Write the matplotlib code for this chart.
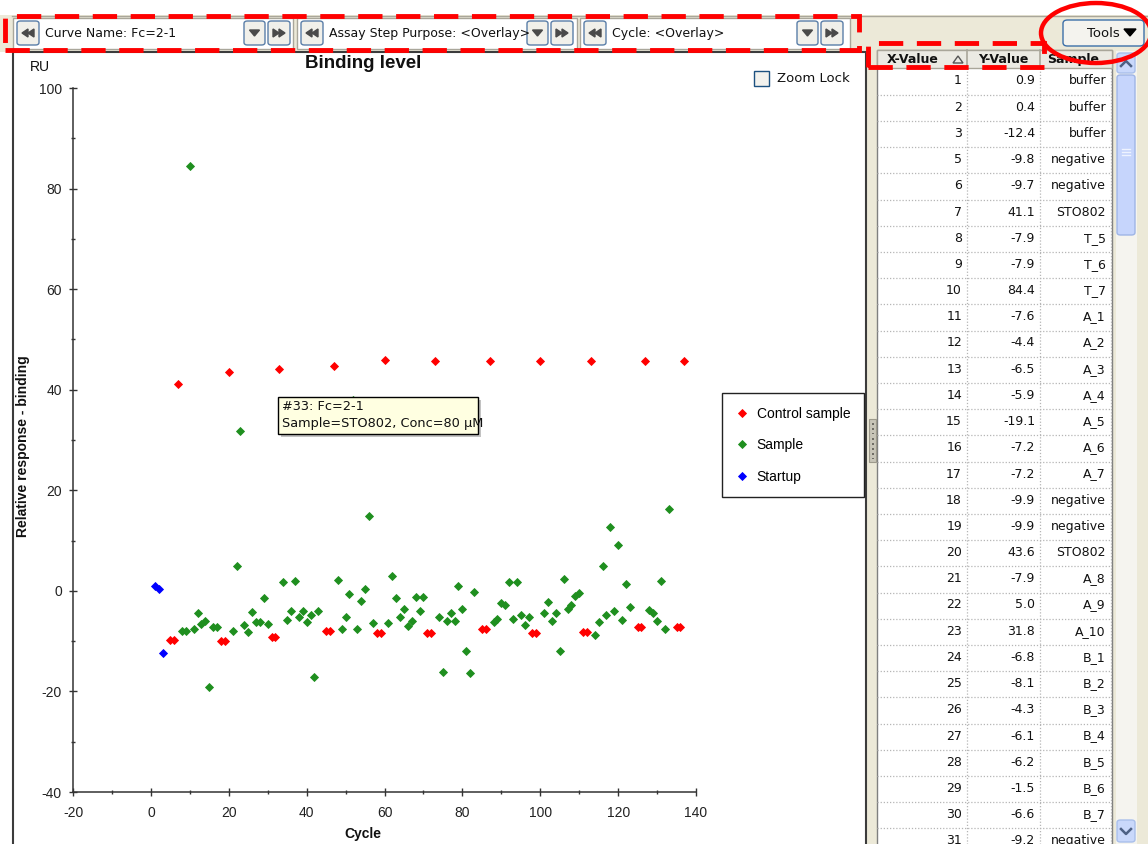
import numpy as np
import matplotlib.pyplot as plt
from matplotlib.patches import Rectangle, Ellipse, FancyBboxPatch, Polygon
from matplotlib.lines import Line2D

plt.rcParams["axes.unicode_minus"] = False

W, H = 1148, 844

# data (cycle -> binding level, RU)
startup_cycle = [1, 2, 3]
startup_resp = [0.9, 0.4, -12.4]

control_cycle = [5, 6, 7, 18, 19, 20, 31, 32, 33, 45, 46, 47, 58, 59, 60, 71, 72, 73,
                 85, 86, 87, 98, 99, 100, 111, 112, 113, 125, 126, 127, 135, 136, 137]
control_resp = [-9.8, -9.7, 41.1, -9.9, -9.9, 43.6, -9.2, -9.1, 44.1, -8.0, -8.0, 44.7,
                -8.3, -8.3, 45.9, -8.3, -8.3, 45.7, -7.5, -7.5, 45.7, -8.3, -8.3, 45.7,
                -8.1, -8.1, 45.7, -7.2, -7.2, 45.7, -7.1, -7.1, 45.7]

sample_cycle = [8, 9, 10, 11, 12, 13, 14, 15, 16, 17, 21, 22, 23, 24, 25, 26, 27, 28, 29, 30,
                34, 35, 36, 37, 38, 39, 40, 41, 42, 43, 48, 49, 50, 51, 52, 53, 54, 55, 56, 57,
                61, 62, 63, 64, 65, 66, 67, 68, 69, 70, 74, 75, 76, 77, 78, 79, 80, 81, 82, 83,
                88, 89, 90, 91, 92, 93, 94, 95, 96, 97, 101, 102, 103, 104, 105, 106, 107, 108,
                109, 110, 114, 115, 116, 117, 118, 119, 120, 121, 122, 123, 128, 129, 130, 131,
                132, 133]
sample_resp = [-7.9, -7.9, 84.4, -7.6, -4.4, -6.5, -5.9, -19.1, -7.2, -7.2, -7.9, 5.0, 31.8,
               -6.8, -8.1, -4.3, -6.1, -6.2, -1.5, -6.6,
               1.7, -5.7, -4.1, 1.9, -5.2, -4.1, -6.2, -4.8, -17.2, -4.1,
               2.1, -7.5, -5.2, -0.7, 37.9, -7.5, -2.1, 0.3, 14.9, -6.4,
               -6.4, 2.9, -1.5, -5.2, -3.6, -7.0, -5.9, -1.3, -4.1, -1.3,
               -5.2, -16.1, -5.9, -4.4, -5.9, 0.9, -3.6, -11.9, -16.4, -0.2,
               -6.2, -5.6, -2.5, -2.8, 1.7, -5.6, 1.7, -4.8, -6.7, -5.2,
               -4.4, -2.3, -5.9, -4.4, -11.9, 2.4, -3.6, -2.8, -1.0, -0.5,
               -8.8, -6.2, 5.0, -4.9, 12.6, -4.1, 9.1, -5.7, 1.3, -3.3,
               -3.8, -4.4, -6.0, 1.9, -7.5, 16.2]

# sample names of the rows visible in the table
table_sample = ["buffer", "buffer", "buffer", "negative", "negative", "STO802", "T_5", "T_6",
                "T_7", "A_1", "A_2", "A_3", "A_4", "A_5", "A_6", "A_7", "negative", "negative",
                "STO802", "A_8", "A_9", "A_10", "B_1", "B_2", "B_3", "B_4", "B_5", "B_6", "B_7",
                "negative"]

series_names = ["Control sample", "Sample", "Startup"]
series_colors = ["#ff0000", "#1f8f1f", "#0000ff"]

BEIGE = "#ece9d8"

fig = plt.figure(figsize=(W / 100, H / 100), dpi=100)
fig.patch.set_facecolor("white")


def fx(x):
    return x / W


def fy(y):
    return 1 - y / H


def rect(x0, y0, x1, y1, **kw):
    p = Rectangle((fx(x0), fy(y1)), (x1 - x0) / W, (y1 - y0) / H,
                  transform=fig.transFigure, **kw)
    fig.add_artist(p)
    return p


def line(xs, ys, **kw):
    fig.add_artist(Line2D([fx(v) for v in xs], [fy(v) for v in ys],
                          transform=fig.transFigure, **kw))


def poly(pts, **kw):
    fig.add_artist(Polygon([(fx(a), fy(b)) for a, b in pts], closed=True,
                           transform=fig.transFigure, **kw))


def text(x, y, s, **kw):
    fig.text(fx(x), fy(y), s, **kw)


def button(x0, y0, x1, y1, glyph):
    fig.add_artist(FancyBboxPatch((fx(x0), fy(y1)), (x1 - x0) / W, (y1 - y0) / H,
                                  boxstyle="round,pad=0,rounding_size=0.003",
                                  transform=fig.transFigure, facecolor="#f1f0ea",
                                  edgecolor="#5a7ea8", linewidth=1.0, zorder=2))
    cx, cy = (x0 + x1) / 2, (y0 + y1) / 2
    c = "#4a4a4a"
    if glyph == "down":
        poly([(cx - 5, cy - 3), (cx + 5, cy - 3), (cx, cy + 3)], color=c, zorder=3)
    elif glyph == "rew":
        for d in (-3, 3):
            poly([(cx + d + 3, cy - 4), (cx + d + 3, cy + 4), (cx + d - 3, cy)], color=c, zorder=3)
    else:
        for d in (-3, 3):
            poly([(cx + d - 3, cy - 4), (cx + d - 3, cy + 4), (cx + d + 3, cy)], color=c, zorder=3)


ui = dict(family=["DejaVu Sans"], color="#111111")

# background panels
rect(0, 15, W, 52, facecolor=BEIGE, edgecolor="none", zorder=-3)
rect(866, 15, W, H, facecolor=BEIGE, edgecolor="none", zorder=-3)
line([12, W], [16, 16], color="#a9a69a", linewidth=1, zorder=-2)
rect(13, 52, 866, H + 5, facecolor="white", edgecolor="#3c3c3c", linewidth=1.5, zorder=-2)

# toolbar
segs = [(13, 293, "Curve Name: Fc=2-1", 244), (297, 577, "Assay Step Purpose: <Overlay>", 527),
        (580, 850, "Cycle: <Overlay>", 797)]
for s0, s1, label, bx in segs:
    rect(s0, 18, s1, 49, facecolor="white", edgecolor="#a9a69a", linewidth=1, zorder=1)
    button(s0 + 4, 21, s0 + 26, 45, "rew")
    text(s0 + 32, 33.5, label, fontsize=9, va="center", ha="left", zorder=3, **ui)
    button(bx, 21, bx + 21, 45, "down")
    button(bx + 24, 21, bx + 46, 45, "ff")

# tools button
fig.add_artist(FancyBboxPatch((fx(1063), fy(46)), 81 / W, 26 / H,
                              boxstyle="round,pad=0,rounding_size=0.004",
                              transform=fig.transFigure, facecolor="#f4f3ee",
                              edgecolor="#3c6fa8", linewidth=1.0, zorder=2))
text(1087, 33.5, "Tools", fontsize=9.5, va="center", ha="left", zorder=3, **ui)
poly([(1124, 29), (1136, 29), (1130, 36)], color="black", zorder=3)

# red highlight annotations
red_kw = dict(facecolor="none", edgecolor="#ff0000", linewidth=3.5,
              linestyle=(0, (5, 2.8)), zorder=6)
rect(5, 16, 859, 50, **red_kw)
rect(868, 43, 1044, 67, **red_kw)
fig.add_artist(Ellipse((fx(1096), fy(33)), 110 / W, 60 / H, transform=fig.transFigure,
                       facecolor="none", edgecolor="#ff0000", linewidth=3.2, zorder=6))

# chart
ax = fig.add_axes([fx(73), fy(792), (696 - 73) / W, (792 - 88) / H])
for cyc, resp, name, col in zip([control_cycle, sample_cycle, startup_cycle],
                                [control_resp, sample_resp, startup_resp],
                                series_names, series_colors):
    ax.plot(cyc, resp, linestyle="none", marker="D", markersize=3.6, color=col,
            markeredgewidth=0.6, label=name, zorder=3)

ax.set_xlim(-20, 140)
ax.set_ylim(-40, 100)
ax.set_xticks(np.arange(-20, 141, 20))
ax.set_yticks(np.arange(-40, 101, 20))
ax.set_xticks(np.arange(-10, 140, 20), minor=True)
ax.set_yticks(np.arange(-30, 100, 20), minor=True)
for side in ["top", "right"]:
    ax.spines[side].set_visible(False)
for side in ["left", "bottom"]:
    ax.spines[side].set_color("#333333")
    ax.spines[side].set_linewidth(1.1)
ax.tick_params(which="major", direction="inout", length=6, width=1, color="#333333",
               labelsize=10, labelcolor="#222222")
ax.tick_params(axis="y", which="major", pad=5)
ax.tick_params(axis="x", which="major", pad=7)
ax.tick_params(which="minor", direction="inout", length=3.5, width=1, color="#333333")
for lab in ax.get_xticklabels() + ax.get_yticklabels():
    lab.set_family(["Liberation Sans", "DejaVu Sans"])

chart = dict(family=["Liberation Sans", "DejaVu Sans"], color="#111111")
text(363, 63, "Binding level", fontsize=13.5, fontweight="bold", ha="center", va="center", **chart)
text(40, 67, "RU", fontsize=10, ha="center", va="center", **chart)
text(363, 834, "Cycle", fontsize=10, fontweight="bold", ha="center", va="center", **chart)
text(23, 446, "Relative response - binding", fontsize=10, fontweight="bold", rotation=90,
     ha="center", va="center", **chart)

leg = ax.legend(loc="upper left", bbox_to_anchor=(fx(722), fy(393)), bbox_transform=fig.transFigure,
                frameon=True, fancybox=False, framealpha=1, edgecolor="#222222", numpoints=1,
                borderpad=1.0, borderaxespad=0, handlelength=0.9, handletextpad=0.6,
                labelspacing=1.25, prop={"family": ["Liberation Sans", "DejaVu Sans"], "size": 10})
leg.get_frame().set_linewidth(1.0)

# zoom lock checkbox
rect(754, 71, 769, 86, facecolor="#f2f2ee", edgecolor="#1c5180", linewidth=1, zorder=2)
text(777, 78.5, "Zoom Lock", fontsize=9.5, ha="left", va="center", zorder=3, **ui)

# tooltip
rect(281, 400, 481, 437, facecolor="#9a9a9a", edgecolor="none", alpha=0.6, zorder=4)
rect(278, 397, 478, 434, facecolor="#ffffe1", edgecolor="black", linewidth=1, zorder=5)
text(282, 406.5, "#33: Fc=2-1", fontsize=9.3, ha="left", va="center", zorder=6, **ui)
text(282, 424, "Sample=STO802, Conc=80 µM", fontsize=9.3, ha="left", va="center", zorder=6, **ui)

# splitter grip
rect(869, 419, 876, 462, facecolor="#c8c5b8", edgecolor="#9d9a8c", linewidth=0.8, zorder=2)
for gy in range(423, 460, 5):
    rect(871.5, gy, 873.5, gy + 1.5, facecolor="#6f6d66", edgecolor="none", zorder=3)

# table (rows sorted by cycle)
all_cycle = startup_cycle + control_cycle + sample_cycle
all_resp = startup_resp + control_resp + sample_resp
order = np.argsort(all_cycle)
tab_x = [all_cycle[i] for i in order][:len(table_sample)]
tab_y = [all_resp[i] for i in order][:len(table_sample)]

rect(877, 50, 1112, H + 5, facecolor="white", edgecolor="#7f7f7f", linewidth=1, zorder=-1)
rect(877, 50, 1112, 68, facecolor="#ebeae3", edgecolor="#a9a69a", linewidth=1, zorder=1)
for cx in [967, 1040]:
    line([cx, cx], [50, 68], color="#a9a69a", linewidth=1.2, zorder=2)
text(887, 59.5, "X-Value", fontsize=9, fontweight="bold", ha="left", va="center", zorder=3, **ui)
poly([(953, 63), (963, 63), (958, 56)], facecolor="none", edgecolor="#555555", linewidth=1, zorder=3)
text(1003, 59.5, "Y-Value", fontsize=9, fontweight="bold", ha="center", va="center", zorder=3, **ui)
text(1047, 59.5, "Sample", fontsize=9, fontweight="bold", ha="left", va="center", zorder=3, **ui)

row_h = 26.2
grid_kw = dict(color="#b5b5b5", linewidth=0.9, linestyle=(0, (1, 1.5)), zorder=1)
for cx in [967, 1040, 1111]:
    line([cx, cx], [68, H], **grid_kw)
for i, (xv, yv, sv) in enumerate(zip(tab_x, tab_y, table_sample)):
    yc = 81 + i * row_h
    line([877, 1111], [yc + 13.8, yc + 13.8], **grid_kw)
    text(962, yc, str(xv), fontsize=9, ha="right", va="center", zorder=3, **ui)
    text(1035, yc, f"{yv:.1f}", fontsize=9, ha="right", va="center", zorder=3, **ui)
    text(1106, yc, sv, fontsize=9, ha="right", va="center", zorder=3, **ui)

# scrollbar
rect(1116, 51, 1137, H, facecolor="#f5f4ef", edgecolor="none", zorder=1)
for y0, y1 in [(53, 73), (820, 842)]:
    fig.add_artist(FancyBboxPatch((fx(1117), fy(y1)), 18 / W, (y1 - y0) / H,
                                  boxstyle="round,pad=0,rounding_size=0.003",
                                  transform=fig.transFigure, facecolor="#c9d8fb",
                                  edgecolor="#a9bfeb", linewidth=1, zorder=2))
line([1121, 1126, 1131], [66, 61, 66], color="#4d6185", linewidth=1.8, zorder=3)
line([1121, 1126, 1131], [829, 834, 829], color="#4d6185", linewidth=1.8, zorder=3)
fig.add_artist(FancyBboxPatch((fx(1117), fy(235)), 18 / W, 160 / H,
                              boxstyle="round,pad=0,rounding_size=0.003",
                              transform=fig.transFigure, facecolor="#c6d5fc",
                              edgecolor="#9fb5e6", linewidth=1, zorder=2))
for gy in [149, 152, 155]:
    line([1122, 1130], [gy, gy], color="#eef3ff", linewidth=1, zorder=3)

fig.savefig("out.png", dpi=100)
